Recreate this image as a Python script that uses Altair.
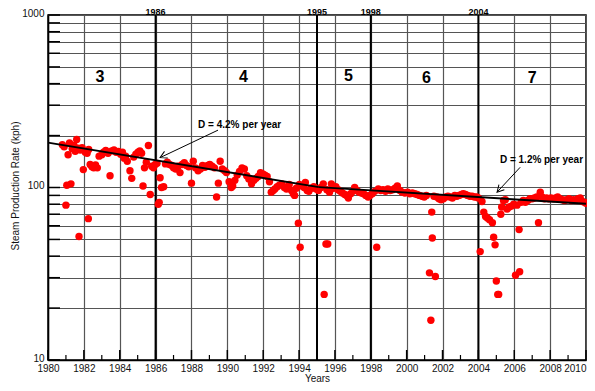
import altair as alt
import pandas as pd

# ---------------- data ----------------
years = [
    1980.80, 1980.90, 1981.00, 1981.05, 1981.12, 1981.20, 1981.28, 1981.35, 1981.45, 1981.52,
    1981.60, 1981.68, 1981.73, 1981.80, 1981.90, 1981.97, 1982.08, 1982.18, 1982.25, 1982.27,
    1982.35, 1982.45, 1982.55, 1982.65, 1982.75, 1982.85, 1983.00, 1983.10, 1983.22, 1983.35,
    1983.46, 1983.55, 1983.68, 1983.80, 1983.92, 1984.05, 1984.15, 1984.25, 1984.33, 1984.42,
    1984.57, 1984.67, 1984.78, 1984.90, 1985.02, 1985.12, 1985.22, 1985.30, 1985.38, 1985.48,
    1985.60, 1985.70, 1985.78, 1985.88, 1985.98, 1986.08, 1986.15, 1986.20, 1986.25, 1986.33,
    1986.45, 1986.55, 1986.65, 1986.78, 1986.90, 1987.00, 1987.12, 1987.25, 1987.36, 1987.48,
    1987.60, 1987.72, 1987.85, 1988.00, 1988.10, 1988.22, 1988.37, 1988.50, 1988.62, 1988.75,
    1988.90, 1989.02, 1989.15, 1989.28, 1989.40, 1989.50, 1989.60, 1989.72, 1989.85, 1989.95,
    1990.10, 1990.22, 1990.30, 1990.42, 1990.55, 1990.68, 1990.82, 1990.95, 1991.08, 1991.20,
    1991.35, 1991.48, 1991.60, 1991.72, 1991.85, 1991.98, 1992.10, 1992.22, 1992.35, 1992.45,
    1992.56, 1992.65, 1992.78, 1992.90, 1993.05, 1993.18, 1993.30, 1993.45, 1993.58, 1993.68,
    1993.75, 1993.85, 1993.96, 1994.02, 1994.06, 1994.15, 1994.28, 1994.35, 1994.45, 1994.55,
    1994.68, 1994.82, 1994.95, 1995.08, 1995.22, 1995.35, 1995.40, 1995.50, 1995.60, 1995.55,
    1995.70, 1995.80, 1995.92, 1996.05, 1996.18, 1996.30, 1996.42, 1996.55, 1996.65, 1996.75,
    1996.88, 1997.00, 1997.10, 1997.22, 1997.35, 1997.48, 1997.60, 1997.72, 1997.85, 1997.95,
    1998.08, 1998.22, 1998.33, 1998.42, 1998.55, 1998.68, 1998.82, 1998.95, 1999.08, 1999.22,
    1999.35, 1999.48, 1999.62, 1999.75, 1999.90, 2000.05, 2000.18, 2000.32, 2000.45, 2000.58,
    2000.72, 2000.85, 2000.98, 2001.10, 2001.27, 2001.35, 2001.40, 2001.43, 2001.52, 2001.60,
    2001.68, 2001.80, 2001.92, 2002.05, 2002.18, 2002.30, 2002.42, 2002.55, 2002.68, 2002.80,
    2002.92, 2003.05, 2003.16, 2003.28, 2003.40, 2003.52, 2003.65, 2003.78, 2003.90, 2004.00,
    2004.10, 2004.20, 2004.30, 2004.40, 2004.50, 2004.62, 2004.78, 2004.85, 2004.93, 2005.00,
    2005.08, 2005.13, 2005.25, 2005.30, 2005.40, 2005.50, 2005.60, 2005.72, 2005.85, 2005.97,
    2006.07, 2006.15, 2006.27, 2006.30, 2006.38, 2006.50, 2006.62, 2006.75, 2006.88, 2007.00,
    2007.12, 2007.25, 2007.35, 2007.45, 2007.55, 2007.68, 2007.80, 2007.92, 2008.05, 2008.18,
    2008.30, 2008.42, 2008.55, 2008.68, 2008.80, 2008.92, 2009.05, 2009.18, 2009.30, 2009.42,
    2009.55, 2009.68, 2009.80, 2009.92, 2010.00,
]
rates = [
    177, 172, 79, 103, 155, 181, 105, 168, 175, 162,
    190, 169, 52, 165, 170, 127, 160, 158, 66, 166,
    136, 132, 130, 135, 130, 152, 155, 160, 164, 158,
    117, 163, 165, 160, 162, 156, 160, 148, 152, 142,
    125, 113, 150, 156, 160, 163, 158, 102, 130, 140,
    175, 91, 133, 130, 136, 138, 80, 82, 114, 100,
    101, 137, 140, 136, 134, 130, 128, 133, 122, 136,
    139, 134, 132, 106, 142, 130, 125, 128, 134, 131,
    134, 136, 133, 130, 88, 106, 142, 128, 125, 122,
    108, 100, 102, 110, 118, 124, 130, 128, 117, 112,
    105, 110, 113, 116, 122, 120, 118, 116, 108, 94,
    96, 98, 101, 103, 105, 100, 98, 104, 96, 92,
    90, 99, 62, 104, 45, 102, 100, 107, 96, 95,
    99, 101, 98, 96, 100, 105, 24, 47, 47, 97,
    94, 105, 99, 101, 97, 95, 93, 91, 90, 87,
    92, 95, 100, 96, 94, 93, 92, 90, 88, 90,
    92, 95, 45, 98, 96, 97, 95, 98, 96, 97,
    99, 102, 96, 94, 93, 94, 92, 93, 92, 91,
    90, 89, 88, 90, 32, 17, 72, 51, 89, 30.5,
    88, 86, 85, 86, 88, 89, 88, 87, 90, 89,
    90, 91, 92, 91, 90, 89, 89, 88, 88, 87,
    42.5, 83, 72, 68, 66.5, 65, 62.5, 51.5, 46.5, 28.7,
    24, 24, 70, 77, 84, 85, 75, 77, 78, 80,
    31, 79, 57, 32.5, 82, 84, 82, 84, 86, 86,
    87, 88, 62.5, 94, 88, 86, 87, 86, 87, 86,
    87, 88, 86, 85, 84, 85, 86, 84, 85, 84,
    86, 87, 83, 82, 81,
]

# trend lines (decline periods)
trend_seg = ["a", "a", "b", "b"]
trend_year = [1980.0, 1995.1, 1995.1, 2010.0]
trend_rate = [182, 100.5, 100.5, 80.5]

# event years marked with heavy lines
event_years = [1986, 1995, 1998, 2004]

# period labels
period_names = ["3", "4", "5", "6", "7"]
period_year = [1982.9, 1990.9, 1996.75, 2001.1, 2007.0]
period_rate = [438, 438, 443, 430, 430]

# annotations
note_text = ["D = 4.2% per year", "D = 1.2% per year"]
note_year = [1988.37, 2005.2]
note_rate = [230, 145]
arrow_from_year = [1989.48, 2006.33]
arrow_from_rate = [215, 131]
arrow_to_year = [1986.25, 2005.04]
arrow_to_rate = [149, 94]
arrow_angle = [154, 133]

# axes
x_major = list(range(1980, 2011, 2))
x_minor = list(range(1981, 2010, 2))
y_grid = [10, 20, 30, 40, 50, 60, 70, 80, 90, 100, 200, 300, 400, 500, 600, 700, 800, 900, 1000]

# ---------------- chart ----------------
W, H = 538, 345
FONT = "Liberation Sans"

xscale = alt.Scale(domain=[1980, 2010], nice=False, zero=False)
yscale = alt.Scale(type="log", domain=[10, 1000], nice=False)

xaxis = alt.Axis(
    values=x_major, format="d", title="Years", grid=True, gridColor="#555555",
    gridWidth=1.2, ticks=False, labelFontSize=10, labelColor="#111111",
    labelPadding=3, labelFlush=False, labelOverlap=False,
    labelAlign={"expr": "datum.value == 2010 ? 'right' : 'center'"},
    domainColor="black", domainWidth=1.5, titleFontSize=10, titleFontWeight="normal",
    titleX=269, titleY=21.5, titleBaseline="alphabetic", titleColor="#111111",
)
yaxis = alt.Axis(
    values=y_grid, format="d", title="Steam Production Rate (kph)", grid=True,
    gridColor="#555555", gridWidth=1.2, ticks=False, labelFontSize=10,
    labelColor="#111111", labelPadding=4, labelOverlap=False, labelOffset=-2,
    labelExpr="indexof([10, 100, 1000], datum.value) >= 0 ? datum.label : ''",
    domainColor="black", domainWidth=1.5, titleFontSize=10, titleFontWeight="normal",
    titleX=-33, titleY=H / 2 - 2, titleAlign="center", titleBaseline="middle",
    titleColor="#111111",
)


def X(field):
    return alt.X(field, type="quantitative", scale=xscale, axis=xaxis)


def Y(field):
    return alt.Y(field, type="quantitative", scale=yscale, axis=yaxis)


pts = pd.DataFrame({"year": years, "rate": rates})
trend = pd.DataFrame({"seg": trend_seg, "year": trend_year, "rate": trend_rate})
events = pd.DataFrame({"year": event_years, "label": [str(e) for e in event_years]})
periods = pd.DataFrame({"name": period_names, "year": period_year, "rate": period_rate})
notes = pd.DataFrame({"text": note_text, "year": note_year, "rate": note_rate})
arrows = pd.DataFrame({
    "year": arrow_from_year, "rate": arrow_from_rate,
    "year2": arrow_to_year, "rate2": arrow_to_rate, "angle": arrow_angle,
})
xmaj = pd.DataFrame({"year": x_major})
xmin = pd.DataFrame({"year": x_minor})
ygr = pd.DataFrame({"rate": y_grid})

# inward ticks
ytick = alt.Chart(ygr).mark_rule(color="black", strokeWidth=1.5).encode(
    y=Y("rate"), x=alt.value(0), x2=alt.value(12)
)
xtick_major = alt.Chart(xmaj).mark_rule(color="black", strokeWidth=1.5).encode(
    x=X("year"), y=alt.value(H), y2=alt.value(H - 10)
)
xtick_minor = alt.Chart(xmin).mark_rule(color="black", strokeWidth=1.2).encode(
    x=X("year"), y=alt.value(H), y2=alt.value(H - 5)
)

event_lines = alt.Chart(events).mark_rule(color="black", strokeWidth=2).encode(
    x=X("year"), y=alt.value(0), y2=alt.value(H)
)
event_labels = alt.Chart(events).mark_text(
    fontSize=9, fontWeight="bold", baseline="alphabetic", align="center", font=FONT
).encode(x=X("year"), y=alt.value(-0.5), text="label")

points = alt.Chart(pts).mark_circle(size=55, color="#ff0000", opacity=1).encode(
    x=X("year"), y=Y("rate")
)

trend_lines = alt.Chart(trend).mark_line(color="black", strokeWidth=2).encode(
    x=X("year"), y=Y("rate"), detail="seg"
)

period_text = alt.Chart(periods).mark_text(
    fontSize=16, fontWeight="bold", font=FONT, baseline="middle", align="center"
).encode(x=X("year"), y=Y("rate"), text="name")

note_marks = alt.Chart(notes).mark_text(
    fontSize=10, fontWeight="bold", font=FONT, baseline="middle", align="left"
).encode(x=X("year"), y=Y("rate"), text="text")

arrow_shaft = alt.Chart(arrows).mark_rule(color="black", strokeWidth=1).encode(
    x=X("year"), y=Y("rate"), x2="year2", y2="rate2"
)
arrow_head = alt.Chart(arrows).mark_point(
    shape="M-1,-0.55L0,0L-1,0.55", filled=False, color="black", strokeWidth=1,
    size=180, opacity=1
).encode(x=X("year2"), y=Y("rate2"), angle=alt.Angle("angle:Q", scale=None))

chart = alt.layer(
    event_lines, xtick_major, xtick_minor, ytick, points, trend_lines,
    period_text, note_marks, arrow_shaft, arrow_head, event_labels,
).properties(
    width=W, height=H,
    autosize=alt.AutoSizeParams(type="none"),
    padding={"left": 40, "top": 7, "right": 1, "bottom": 23},
).configure(font=FONT).configure_view(stroke="black", strokeWidth=1.5)

chart.save("out.html", embed_options={"renderer": "svg", "actions": False})
